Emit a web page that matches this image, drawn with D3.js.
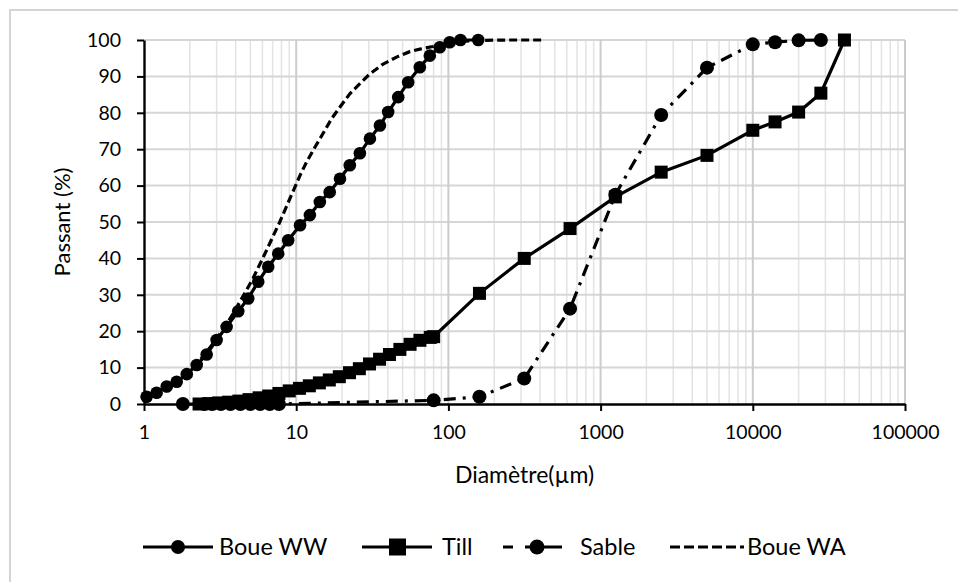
<!DOCTYPE html>
<html>
<head>
<meta charset="utf-8">
<script src="https://cdn.jsdelivr.net/npm/d3@7"></script>
<style>
  body { margin: 0; background: #fff; }
  svg text { font-family: Lato, "Open Sans", sans-serif; fill: #000; }
</style>
</head>
<body>
<div id="chart"></div>
<script>
// Boue WW (circles, solid line)
const wwSize = [1.04, 1.21, 1.41, 1.64, 1.91, 2.22, 2.58, 3.0, 3.49, 4.16, 4.84, 5.63, 6.55, 7.62, 8.86,
  10.6, 12.3, 14.3, 16.6, 19.4, 22.5, 26.2, 30.5, 35.5, 40.2, 46.8, 54.4, 64.9, 75.5, 87.8, 102, 120, 157];
const wwPass = [2.0, 3.1, 4.8, 6.1, 8.2, 10.7, 13.6, 17.6, 21.2, 25.5, 29.0, 33.6, 37.7, 41.3, 45.0,
  49.1, 51.9, 55.5, 58.2, 61.9, 65.6, 68.9, 72.9, 76.5, 80.2, 84.3, 88.4, 92.5, 95.7, 98.0, 99.4, 100, 100];

// Till (squares, solid line)
const tillSize = [2.3, 2.7, 3.1, 3.6, 4.2, 4.9, 5.7, 6.6, 7.7, 9.0, 10.5, 12.2, 14.2, 16.5, 19.2, 22.4,
  26, 30.3, 35.3, 41, 48, 56, 65, 76, 80, 160, 315, 630, 1250, 2500, 5000, 10000, 14000, 20000, 28000, 40000];
const tillPass = [0, 0.1, 0.3, 0.5, 0.8, 1.2, 1.7, 2.2, 2.9, 3.6, 4.3, 5.0, 5.8, 6.6, 7.5, 8.6,
  9.7, 11.0, 12.3, 13.6, 15.0, 16.4, 17.5, 18.3, 18.5, 30.4, 40.0, 48.2, 56.9, 63.7, 68.3, 75.2, 77.5, 80.2, 85.4, 100];

// Sable (circles, dash-dot line)
const sableSize = [1.8, 2.5, 2.8, 3.2, 3.7, 4.3, 5.0, 5.8, 6.7, 7.7, 80, 160, 315, 630, 1250, 2500, 5000, 10000, 14000, 20000, 28000];
const sablePass = [0, 0, 0, 0, 0, 0, 0, 0, 0, 0, 1.0, 2.0, 7.0, 26.2, 57.5, 79.4, 92.4, 98.8, 99.4, 99.9, 100];

// Boue WA (dashed line, no markers)
const waSize = [1.0, 1.2, 1.5, 2.0, 2.5, 3.0, 3.5, 4.0, 4.6, 5.2, 5.8, 6.4, 7.1, 7.8, 8.7, 9.6, 10.6, 11.7,
  13.3, 15.0, 17.1, 19.4, 22.5, 26.2, 30.5, 37, 45.6, 55.8, 65, 79, 100, 130, 160, 250, 417];
const waPass = [0.5, 2.0, 4.5, 9.0, 13.5, 18.0, 22.0, 26.0, 30.5, 34.5, 38.6, 42.3, 46.4, 50.0, 54.6, 58.7, 62.8, 66.5,
  70.6, 74.3, 78.4, 81.6, 85.2, 88.0, 90.7, 93.3, 95.3, 96.8, 97.5, 98.2, 99.2, 99.7, 99.9, 100, 100];

const xTicks = [1, 10, 100, 1000, 10000, 100000];
const yTicks = [0, 10, 20, 30, 40, 50, 60, 70, 80, 90, 100];
const names = ['Boue WW', 'Till', 'Sable', 'Boue WA'];

const width = 958, height = 582;
const svg = d3.select('#chart').append('svg')
  .attr('width', width)
  .attr('height', height);

// chart frame
svg.append('rect')
  .attr('x', 10).attr('y', 10)
  .attr('width', 960).attr('height', 600)
  .attr('fill', 'none')
  .attr('stroke', '#d4d4d4')
  .attr('stroke-width', 2);

const x = d3.scaleLog().domain([1, 100000]).range([144, 905]);
const y = d3.scaleLinear().domain([0, 100]).range([404, 40]);

// gridlines
const minor = [];
for (let dec = 1; dec < 100000; dec *= 10) {
  for (let k = 2; k <= 9; k++) minor.push(dec * k);
}
svg.append('g')
  .selectAll('line')
  .data(minor)
  .enter().append('line')
    .attr('x1', d => x(d)).attr('x2', d => x(d))
    .attr('y1', y(0)).attr('y2', y(100))
    .attr('stroke', '#e3e3e3')
    .attr('stroke-width', 1.5);

svg.append('g')
  .selectAll('line')
  .data(yTicks.slice(1))
  .enter().append('line')
    .attr('x1', x(1)).attr('x2', x(100000))
    .attr('y1', d => y(d)).attr('y2', d => y(d))
    .attr('stroke', '#d6d6d6')
    .attr('stroke-width', 2);

svg.append('g')
  .selectAll('line')
  .data(xTicks.slice(1))
  .enter().append('line')
    .attr('x1', d => x(d)).attr('x2', d => x(d))
    .attr('y1', y(0)).attr('y2', y(100))
    .attr('stroke', '#cccccc')
    .attr('stroke-width', 2);

// axes
const xAxis = d3.axisBottom(x)
  .tickValues(xTicks)
  .tickFormat(d3.format('d'))
  .tickSizeInner(7).tickSizeOuter(0).tickPadding(14);
const gx = svg.append('g')
  .attr('transform', `translate(0,${y(0)})`)
  .call(xAxis);

const yAxis = d3.axisLeft(y)
  .tickValues(yTicks)
  .tickSizeInner(7).tickSizeOuter(0).tickPadding(16);
const gy = svg.append('g')
  .attr('transform', `translate(${x(1)},0)`)
  .call(yAxis);

[gx, gy].forEach(g => {
  g.select('.domain').attr('stroke', '#000').attr('stroke-width', 2.4);
  g.selectAll('.tick line').attr('stroke', '#000').attr('stroke-width', 2);
  g.selectAll('.tick text')
    .style('font-family', 'Lato, sans-serif')
    .style('font-size', '19.5px');
});

svg.append('text')
  .attr('x', (x(1) + x(100000)) / 2)
  .attr('y', 483)
  .attr('text-anchor', 'middle')
  .style('font-size', '23px')
  .text('Diamètre(µm)');

svg.append('text')
  .attr('transform', `translate(70,${y(50)}) rotate(-90)`)
  .attr('text-anchor', 'middle')
  .style('font-size', '22px')
  .text('Passant (%)');

// series
const line = d3.line().x(d => x(d[0])).y(d => y(d[1]));
const ww = d3.zip(wwSize, wwPass);
const till = d3.zip(tillSize, tillPass);
const sable = d3.zip(sableSize, sablePass);
const wa = d3.zip(waSize, waPass);

svg.append('path').datum(ww).attr('d', line)
  .attr('fill', 'none').attr('stroke', '#000').attr('stroke-width', 3.2);
svg.append('g').selectAll('circle').data(ww).enter().append('circle')
  .attr('cx', d => x(d[0])).attr('cy', d => y(d[1])).attr('r', 6.3).attr('fill', '#000');

svg.append('path').datum(till).attr('d', line)
  .attr('fill', 'none').attr('stroke', '#000').attr('stroke-width', 3.2);
svg.append('g').selectAll('rect').data(till).enter().append('rect')
  .attr('x', d => x(d[0]) - 6.5).attr('y', d => y(d[1]) - 6.5)
  .attr('width', 13).attr('height', 13).attr('fill', '#000');

svg.append('path').datum(sable).attr('d', line)
  .attr('fill', 'none').attr('stroke', '#000').attr('stroke-width', 3.2)
  .attr('stroke-dasharray', '12,7,3,7');
svg.append('g').selectAll('circle').data(sable).enter().append('circle')
  .attr('cx', d => x(d[0])).attr('cy', d => y(d[1])).attr('r', 7).attr('fill', '#000');

svg.append('path').datum(wa).attr('d', line)
  .attr('fill', 'none').attr('stroke', '#000').attr('stroke-width', 3.2)
  .attr('stroke-dasharray', '8,4');

// legend
const ly = 547;
const leg = svg.append('g');
// Boue WW
leg.append('line').attr('x1', 143).attr('x2', 213).attr('y1', ly).attr('y2', ly)
  .attr('stroke', '#000').attr('stroke-width', 3.2);
leg.append('circle').attr('cx', 178).attr('cy', ly).attr('r', 7).attr('fill', '#000');
// Till
leg.append('line').attr('x1', 362).attr('x2', 432).attr('y1', ly).attr('y2', ly)
  .attr('stroke', '#000').attr('stroke-width', 3.2);
leg.append('rect').attr('x', 389).attr('y', ly - 8.5).attr('width', 17).attr('height', 17).attr('fill', '#000');
// Sable
leg.append('line').attr('x1', 503).attr('x2', 562).attr('y1', ly).attr('y2', ly)
  .attr('stroke', '#000').attr('stroke-width', 3.2)
  .attr('stroke-dasharray', '10,12,37');
leg.append('circle').attr('cx', 537).attr('cy', ly).attr('r', 7.5).attr('fill', '#000');
// Boue WA
leg.append('line').attr('x1', 670).attr('x2', 744).attr('y1', ly).attr('y2', ly)
  .attr('stroke', '#000').attr('stroke-width', 3.2)
  .attr('stroke-dasharray', '10,4');

const legText = [219, 442, 580, 747];
leg.selectAll('text.lg').data(names).enter().append('text')
  .attr('class', 'lg')
  .attr('x', (d, i) => legText[i])
  .attr('y', ly)
  .attr('dy', '0.35em')
  .style('font-size', '23.5px')
  .text(d => d);
</script>
</body>
</html>
